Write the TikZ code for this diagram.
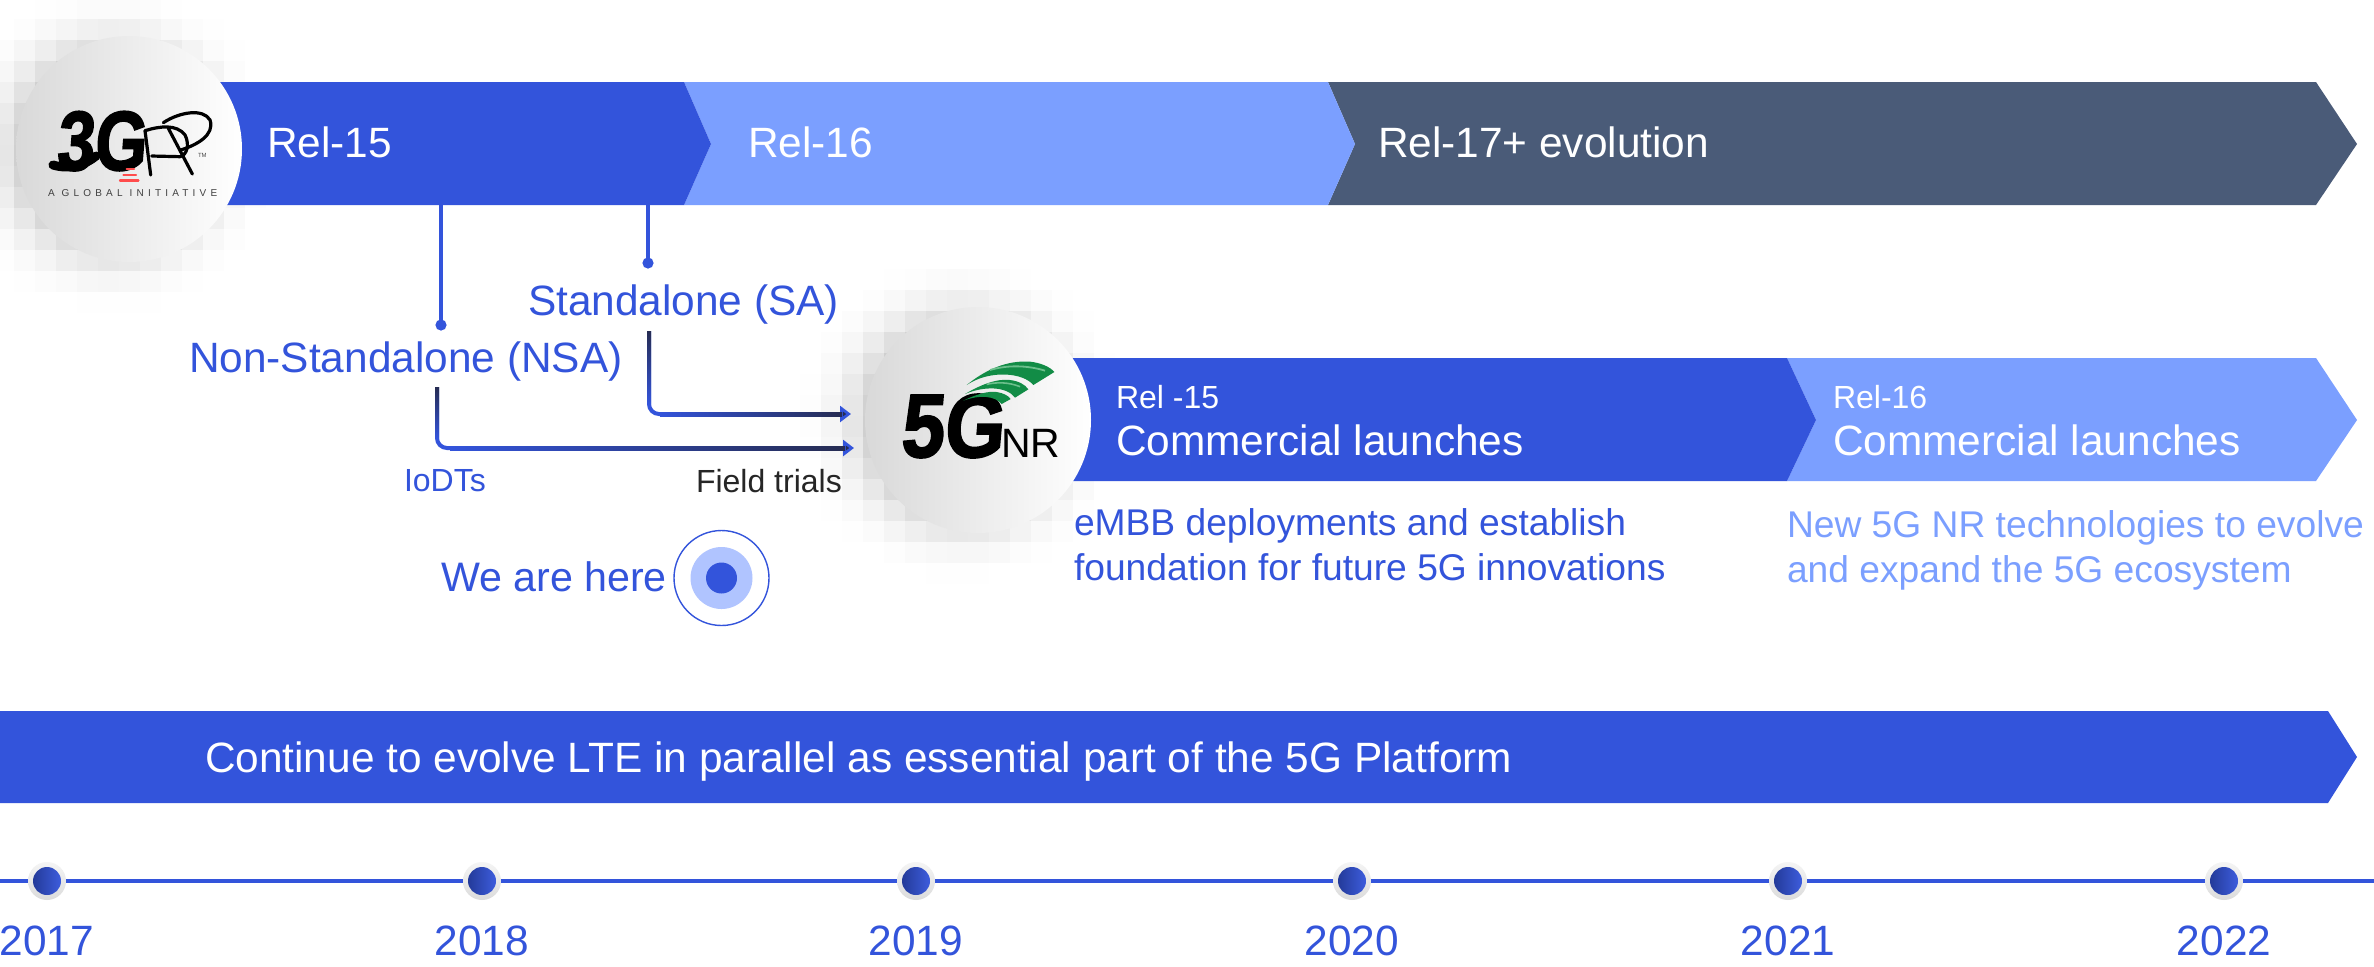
\documentclass[tikz,border=0pt]{standalone}
\usepackage{fontspec}
\setmainfont{Liberation Sans}
\newfontfamily\logoface[BoldFeatures={FakeBold=2.2,FakeSlant=0.1}]{Liberation Sans}
\newfontfamily\spacedface[LetterSpace=42]{Liberation Sans}
\usetikzlibrary{arrows.meta,calc}
\definecolor{mainblue}{HTML}{3354DB}
\definecolor{lightblue}{HTML}{7B9FFF}
\definecolor{paleblue}{HTML}{B0C4FF}
\definecolor{slate}{HTML}{4A5B78}
\definecolor{ink}{HTML}{262C52}
\definecolor{gleaf}{HTML}{128C46}
\definecolor{gleafhi}{HTML}{6CBF8C}
\tikzset{
  lbl/.style={anchor=base west,inner sep=0pt,outer sep=0pt},
  big/.style={lbl,font=\fontsize{21.2}{25}\selectfont},
  small/.style={lbl,font=\fontsize{16}{18}\selectfont},
  desc/.style={lbl,font=\fontsize{18.6}{22}\selectfont},
  logocircle/.style={circle,minimum size=113pt,inner sep=0pt,left color=black!15,right color=white,draw=none},
  drop/.style={mainblue,line width=2pt},
  feed/.style={mainblue,line width=2pt,rounded corners=5pt,-{Triangle[length=5.5pt,width=8pt,fill=ink]}},
  yeardot/.style={circle,minimum size=19pt,inner sep=0pt,top color=black!4,bottom color=black!14,draw=none},
  yearcore/.style={circle,minimum size=14pt,inner sep=0pt,left color=mainblue!70!black,right color=mainblue!95!white},
  year/.style={anchor=base,inner sep=0pt,text=mainblue,font=\fontsize{21.2}{25}\selectfont}
}
\begin{document}
\begin{tikzpicture}[x=0.5pt,y=-0.5pt]
\useasboundingbox (0,0) rectangle (2374,966);
\fill[white] (0,0) rectangle (2374,966);

% blocky soft shadows
\foreach \i in {0,...,13}{\foreach \j in {0,...,15}{
  \pgfmathsetmacro\cx{-7+21*\i+10.5}
  \pgfmathsetmacro\cy{-2+21*\j+10.5}
  \pgfmathsetmacro\w{max(0,min(1,(165-veclen(\cx-112,\cy-150))/80))}
  \pgfmathsetmacro\p{20*\w*\w}
  \fill[black!\p!white] (\cx-10.5,\cy-10.5) rectangle +(21.4,21.4);
}}
\foreach \i in {0,...,15}{\foreach \j in {0,...,15}{
  \pgfmathsetmacro\cx{800+21*\i+10.5}
  \pgfmathsetmacro\cy{248+21*\j+10.5}
  \pgfmathsetmacro\w{max(0,min(1,(165-veclen(\cx-961,\cy-420))/80))}
  \pgfmathsetmacro\p{20*\w*\w}
  \fill[black!\p!white] (\cx-10.5,\cy-10.5) rectangle +(21.4,21.4);
}}

% top band
\fill[slate] (1328,82) -- (2316,82) -- (2357,144) -- (2316,205) -- (1328,205) -- (1355,144) -- cycle;
\fill[lightblue] (684,82) -- (1328,82) -- (1355,144) -- (1328,205) -- (684,205) -- (711,144) -- cycle;
\fill[mainblue] (180,82) -- (684,82) -- (711,144) -- (684,205) -- (180,205) -- cycle;
\node[big,text=white] (r15) at (267,157) {Rel-15};
\node[big,text=white] (r16) at (748,157) {Rel-16};
\node[big,text=white] (r17) at (1378,157) {Rel-17+ evolution};

% second band
\fill[lightblue] (1787,358) -- (2316,358) -- (2357,420) -- (2316,481) -- (1787,481) -- (1816,420) -- cycle;
\fill[mainblue] (1060,358) -- (1787,358) -- (1816,420) -- (1787,481) -- (1060,481) -- cycle;
\node[small,text=white] (a15) at (1116,408) {Rel -15};
\node[big,text=white] (b15) at (1116,455) {Commercial launches};
\node[small,text=white] (a16) at (1833,408) {Rel-16};
\node[big,text=white] (b16) at (1833,455) {Commercial launches};
\node[desc,text=mainblue] (d1) at (1074,535) {eMBB deployments and establish};
\node[desc,text=mainblue] (d2) at (1074,580) {foundation for future 5G innovations};
\node[desc,text=lightblue] (e1) at (1787,537) {New 5G NR technologies to evolve};
\node[desc,text=lightblue] (e2) at (1787,582) {and expand the 5G ecosystem};

% labels
\node[big,text=mainblue] (sa) at (528,315) {Standalone (SA)};
\node[big,text=mainblue] (nsa) at (189,372) {Non-Standalone (NSA)};
\node[small,text=mainblue] (iodt) at (404,491) {IoDTs};
\node[small,text=black!85] (ft) at (696,492) {Field trials};

% drop lines
\coordinate (n15) at (441,205);
\coordinate (n15e) at (441,325);
\coordinate (n16) at (648,205);
\coordinate (n16e) at (648,263);
\draw[drop] (n15) -- (n15e);
\fill[mainblue] (n15e) circle (2.8pt);
\draw[drop] (n16) -- (n16e);
\fill[mainblue] (n16e) circle (2.8pt);

% feeds into 5G
\coordinate (saTop) at (649,331);
\coordinate (saEnd) at (851,414);
\coordinate (nsaTop) at (437,387);
\coordinate (nsaEnd) at (854,448);
\draw[feed] (saTop) |- (saEnd);
\draw[feed] (nsaTop) |- (nsaEnd);
\shade[top color=ink,bottom color=mainblue] (647,331) rectangle (651,404);
\shade[left color=mainblue,right color=ink] (660,412) rectangle (842,416);
\shade[top color=ink,bottom color=mainblue] (435,387) rectangle (439,438);
\shade[left color=mainblue,right color=ink] (450,446) rectangle (845,450);

% logo circles
\node[logocircle] (gpp) at (129,149) {};
\node[logocircle] (nr) at (978,420) {};

% 3GPP logo
\node[lbl] (g3) at (56,170) {\logoface\bfseries\fontsize{42}{42}\selectfont\scalebox{.8}[1]{3G}};
\draw[black,line width=4.5pt,line cap=round] (53,165) .. controls (70,170) and (85,165) .. (96,156);
\begin{scope}[shift={(30,100)},x=0.1667pt,y=-0.1667pt,black,line width=1.6pt,line cap=round,line join=round]
  \draw (345,92) -- (362,225);
  \draw (345,92) .. controls (390,78) and (440,72) .. (465,105) .. controls (480,135) and (470,165) .. (450,170) -- (365,168);
  \draw (415,85) -- (487,222);
  \draw (400,68) .. controls (450,35) and (520,25) .. (540,60) .. controls (555,105) and (500,135) .. (452,150);
  \draw[red!70!white,line width=1pt] (290,208) -- (312,208);
  \draw[red!70!white,line width=1pt] (280,225) -- (318,225);
  \draw[red!70!white,line width=1.2pt] (270,242) -- (325,242);
\end{scope}
\node[lbl,text=black!70] (tm) at (198,157) {\fontsize{3}{3}\selectfont TM};
\node[lbl,text=black!75] (glob) at (48,196) {\spacedface\fontsize{5}{5}\selectfont A GLOBAL INITIATIVE};

% 5G logo
\node[lbl] (fg) at (900,457) {\logoface\bfseries\fontsize{45}{45}\selectfont\scalebox{.86}[1]{5G}};
\node[lbl,font=\fontsize{20.5}{20}\selectfont] (nrt) at (1001,457) {NR};
\begin{scope}[shift={(890,350)},x=0.1667pt,y=-0.1667pt]
  \fill[gleaf] (230,105) .. controls (285,60) and (350,30) .. (420,35) .. controls (450,38) and (480,50) .. (493,66) -- (430,105) .. controls (400,68) and (300,58) .. cycle;
  \fill[gleaf] (225,132) .. controls (270,105) and (320,85) .. (360,90) .. controls (385,93) and (405,103) .. (415,118) -- (375,143) .. controls (350,108) and (280,108) .. cycle;
  \fill[gleaf] (220,152) .. controls (255,134) and (295,122) .. (320,126) .. controls (340,129) and (355,137) .. (362,147) -- (335,162) .. controls (315,138) and (270,133) .. cycle;
  \draw[gleafhi,line width=.9pt] (300,60) .. controls (350,45) and (410,45) .. (465,62);
  \draw[gleafhi,line width=.8pt] (290,103) .. controls (320,96) and (355,96) .. (390,110);
\end{scope}

% we are here
\node[lbl,text=mainblue,font=\fontsize{20.6}{25}\selectfont] (here) at (441,591) {We are here};
\node[circle,draw=mainblue,line width=.7pt,minimum size=47.5pt,inner sep=0pt] (t1) at (721.5,578) {};
\node[circle,fill=paleblue,minimum size=31pt,inner sep=0pt] (t2) at (721.5,578) {};
\node[circle,fill=mainblue,minimum size=15.5pt,inner sep=0pt] (t3) at (721.5,578) {};

% LTE band
\fill[mainblue] (0,711) -- (2328,711) -- (2357,757) -- (2328,803) -- (0,803) -- cycle;
\node[big,text=white] (lte) at (205,772) {Continue to evolve LTE in parallel as essential part of the 5G Platform};

% timeline
\coordinate (tl) at (0,881);
\coordinate (tr) at (2374,881);
\draw[mainblue,line width=2.4pt] (tl) -- (tr);
\foreach \x/\y in {47/2017,482/2018,916/2019,1352/2020,1788/2021,2224/2022}{
  \node[yeardot] (dot\y) at (\x,881) {};
  \node[yearcore] at (dot\y) {};
  \node[year] (y\y) at (\x,955) {\y};
}
\end{tikzpicture}
\end{document}
